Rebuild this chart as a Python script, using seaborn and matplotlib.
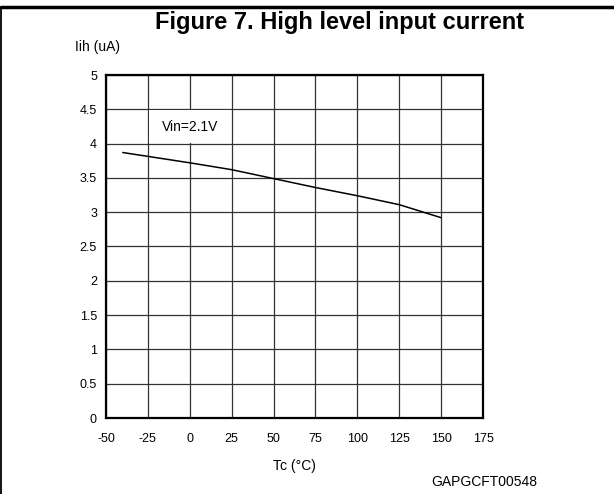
import matplotlib
matplotlib.use("Agg")
import matplotlib.pyplot as plt
import seaborn as sns
import pandas as pd
from matplotlib.lines import Line2D
from matplotlib.patches import Rectangle

sns.set_style("white")
plt.rcParams['font.family'] = ['Liberation Sans', 'DejaVu Sans']
plt.rcParams['text.color'] = 'black'

temps = [-40, 0, 25, 50, 75, 100, 125, 150]
iih = [3.87, 3.72, 3.62, 3.49, 3.36, 3.24, 3.11, 2.92]
x_ticks = [-50, -25, 0, 25, 50, 75, 100, 125, 150, 175]
y_ticks = [0, 0.5, 1, 1.5, 2, 2.5, 3, 3.5, 4, 4.5, 5]
y_tick_labels = ["0", "0.5", "1", "1.5", "2", "2.5", "3", "3.5", "4", "4.5", "5"]

df = pd.DataFrame({"Tc": temps, "Iih": iih})

fig = plt.figure(figsize=(6.14, 4.94), dpi=100)
ax = fig.add_axes([106/614, 76/494, 377/614, 343/494])

sns.lineplot(data=df, x="Tc", y="Iih", ax=ax, color="black", linewidth=1.1, zorder=4)

ax.set_xlim(-50, 175)
ax.set_ylim(0, 5)
ax.set_xticks(x_ticks)
ax.set_xticklabels([str(t) for t in x_ticks])
ax.set_yticks(y_ticks)
ax.set_yticklabels(y_tick_labels)
ax.tick_params(axis='both', length=0, labelsize=9, colors='black')
ax.tick_params(axis='x', pad=11)
ax.tick_params(axis='y', pad=6.5)
ax.grid(True, color='#333333', linewidth=0.9)
ax.set_axisbelow(True)
for s in ax.spines.values():
    s.set_visible(True)
    s.set_color('black')
    s.set_linewidth(1.6)
ax.set_xlabel("")
ax.set_ylabel("")

# white label box covering the cell behind the annotation
ax.add_patch(Rectangle((-24.4, 4.015), 48.8, 0.47, facecolor='white', edgecolor='none', zorder=2))
ax.text(0.5, 4.24, "Vin=2.1V", fontsize=10, ha='center', va='center', zorder=5, color='black')

fig.text(340/614, 1 - 22/494, "Figure 7. High level input current", fontsize=17,
         fontweight='bold', ha='center', va='center', color='black')
fig.text(75/614, 1 - 47/494, "Iih (uA)", fontsize=10, ha='left', va='center', color='black')
fig.text(294/614, 1 - 466/494, "Tc (°C)", fontsize=10, ha='center', va='center', color='black')
fig.text(484/614, 1 - 482/494, "GAPGCFT00548", fontsize=10, ha='center', va='center', color='black')

# outer frame lines
fig.add_artist(Line2D([1/614, 614/614], [1 - 7/494, 1 - 7/494], color='black', linewidth=2.5,
                      transform=fig.transFigure))
fig.add_artist(Line2D([1.5/614, 1.5/614], [0, 1 - 7/494], color='black', linewidth=1.3,
                      transform=fig.transFigure))

fig.savefig("out.png", dpi=100)
